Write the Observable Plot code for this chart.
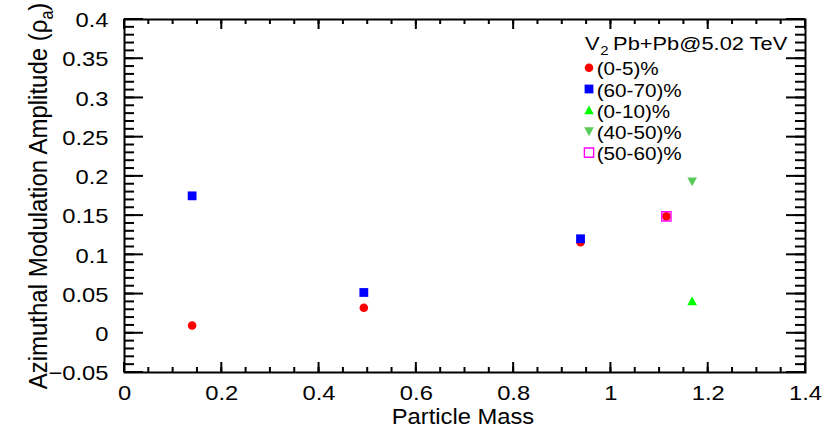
<!DOCTYPE html>
<html>
<head>
<meta charset="utf-8">
<script src="https://cdn.jsdelivr.net/npm/d3@7"></script>
<script src="https://cdn.jsdelivr.net/npm/@observablehq/plot@0.6"></script>
<style>
  html, body { margin: 0; padding: 0; background: #fff; }
  #chart { width: 830px; height: 438px; }
  #chart text { white-space: pre; }
</style>
</head>
<body>
<div id="chart"></div>
<script>
// ---- data ----
const seriesLabels = ["(0-5)%", "(60-70)%", "(0-10)%", "(40-50)%", "(50-60)%"];
const legendTitle = "V";
const legendTitleSub = "2";
const legendTitleRest = "Pb+Pb@5.02 TeV";
const xTitle = "Particle Mass";
const yTitleMain = "Azimuthal Modulation Amplitude (ρ";
const yTitleSub = "a";
const yTitleEnd = ")";

const mass_0_5 = [0.139, 0.492, 0.9375, 1.114];
const amp_0_5 = [0.0099, 0.0325, 0.116, 0.149];
const mass_60_70 = [0.139, 0.492, 0.9375];
const amp_60_70 = [0.1752, 0.052, 0.1205];
const mass_0_10 = [1.167];
const amp_0_10 = [0.041];
const mass_40_50 = [1.167];
const amp_40_50 = [0.1935];
const mass_50_60 = [1.114];
const amp_50_60 = [0.149];

const xTicks = [0, 0.2, 0.4, 0.6, 0.8, 1, 1.2, 1.4];
const yTicks = [-0.05, 0, 0.05, 0.1, 0.15, 0.2, 0.25, 0.3, 0.35, 0.4];
const xMinor = d3.range(0, 1.4001, 0.05);
const yMinor = d3.range(-0.05, 0.4001, 0.01);

// ---- layout ----
const W = 830, H = 438, ML = 124, MR = 25, MT = 19, MB = 66;

const pts = (xs, ys) => xs.map((x, i) => ({x, y: ys[i]}));

// custom symbols (size = PI r^2)
const rOf = (size) => Math.sqrt(size / Math.PI);
const symSquare = {draw(ctx, size) { const r = rOf(size); ctx.rect(-r, -r, 2 * r, 2 * r); }};
const symTriUp = {draw(ctx, size) { const r = rOf(size); ctx.moveTo(0, -r); ctx.lineTo(r, r * 0.85); ctx.lineTo(-r, r * 0.85); ctx.closePath(); }};
const symTriDown = {draw(ctx, size) { const r = rOf(size); ctx.moveTo(-r, -r * 0.85); ctx.lineTo(r, -r * 0.85); ctx.lineTo(0, r); ctx.closePath(); }};

const styles = [
  {symbol: "circle", r: 4.3, fill: "#ff0000", stroke: "none", sw: 0},
  {symbol: symSquare, r: 4.4, fill: "#0000ff", stroke: "none", sw: 0},
  {symbol: symTriUp, r: 4.8, fill: "#00ff00", stroke: "none", sw: 0},
  {symbol: symTriDown, r: 4.8, fill: "#58cc58", stroke: "none", sw: 0},
  {symbol: symSquare, r: 4.6, fill: "none", stroke: "#ff00ff", sw: 1.4}
];
const seriesData = [
  pts(mass_0_5, amp_0_5),
  pts(mass_60_70, amp_60_70),
  pts(mass_0_10, amp_0_10),
  pts(mass_40_50, amp_40_50),
  pts(mass_50_60, amp_50_60)
];

const fmt = (d) => d < 0 ? "\u2212" + String(-d) : String(d);

const dotMarks = seriesData.map((data, i) => {
  const s = styles[i];
  return Plot.dot(data, {x: "x", y: "y", symbol: s.symbol, r: s.r, fill: s.fill, stroke: s.stroke, strokeWidth: s.sw});
});

const chart = Plot.plot({
  width: W, height: H,
  marginLeft: ML, marginRight: MR, marginTop: MT, marginBottom: MB,
  x: {domain: [0, 1.4]},
  y: {domain: [-0.05, 0.4]},
  style: {fontFamily: "'Liberation Sans', Arial, Helvetica, sans-serif", background: "#fff", color: "#000", overflow: "visible"},
  marks: [
    Plot.frame({stroke: "#000", strokeWidth: 2}),
    Plot.axisX(xTicks, {tickSize: 0, tickPadding: 13, tickFormat: fmt, fontSize: 21, label: null}),
    Plot.axisY(yTicks, {tickSize: 0, tickPadding: 16, tickFormat: fmt, fontSize: 21, label: null, dy: 1}),
    ...dotMarks
  ]
});

document.getElementById("chart").appendChild(chart);
const svg = d3.select(chart);
const sx = chart.scale("x"), sy = chart.scale("y");

// inward ticks on all four sides, positioned through Plot's scales
const tg = svg.insert("g", ":first-child").attr("stroke", "#000").attr("stroke-width", 2);
const addX = (vals, len) => vals.forEach(v => {
  const x = sx.apply(v);
  tg.append("line").attr("x1", x).attr("x2", x).attr("y1", H - MB).attr("y2", H - MB - len);
  tg.append("line").attr("x1", x).attr("x2", x).attr("y1", MT).attr("y2", MT + len);
});
const addY = (vals, len) => vals.forEach(v => {
  const y = sy.apply(v);
  tg.append("line").attr("y1", y).attr("y2", y).attr("x1", ML).attr("x2", ML + len);
  tg.append("line").attr("y1", y).attr("y2", y).attr("x1", W - MR).attr("x2", W - MR - len);
});
addX(xMinor, 5); addX(xTicks, 10);
addY(yMinor, 10); addY(yTicks, 19);

// widen tick labels slightly (reference font is wider)
svg.selectAll('g[aria-label$="tick label"] text').each(function () {
  const w = this.getComputedTextLength();
  this.setAttribute("textLength", (w * 1.13).toFixed(2));
  this.setAttribute("lengthAdjust", "spacingAndGlyphs");
});

// axis titles
svg.append("text")
  .attr("transform", "translate(463,424) scale(1.08,1)")
  .attr("text-anchor", "middle")
  .attr("font-size", 22)
  .attr("fill", "#000")
  .text(xTitle);

const yt = svg.append("text")
  .attr("transform", "translate(47,196) scale(1.1,1) rotate(-90)")
  .attr("text-anchor", "middle")
  .attr("font-size", 24)
  .attr("fill", "#000");
yt.append("tspan").text(yTitleMain);
yt.append("tspan").attr("font-size", 16).attr("dy", 5).text(yTitleSub);
yt.append("tspan").attr("dy", -5).text(yTitleEnd);

// legend
const hdr = svg.append("text")
  .attr("transform", "translate(585,50) scale(1.15,1)")
  .attr("text-anchor", "start")
  .attr("font-size", 19)
  .attr("fill", "#000");
hdr.append("tspan").text(legendTitle);
hdr.append("tspan").attr("font-size", 13).attr("dx", 0.5).attr("dy", 5).text(legendTitleSub);
hdr.append("tspan").attr("dx", 4).attr("dy", -5).text(legendTitleRest);

const lg = svg.append("g");
seriesLabels.forEach((label, i) => {
  const s = styles[i];
  const cy = 67.8 + i * 21.2;
  const type = s.symbol === "circle" ? d3.symbolCircle : s.symbol;
  lg.append("path")
    .attr("transform", `translate(589,${cy})`)
    .attr("d", d3.symbol().type(type).size(Math.PI * s.r * s.r)())
    .attr("fill", s.fill)
    .attr("stroke", s.stroke)
    .attr("stroke-width", s.sw);
  lg.append("text")
    .attr("transform", `translate(596.7,${cy + 7.6}) scale(1.15,1)`)
    .attr("text-anchor", "start")
    .attr("font-size", 18)
    .attr("fill", "#000")
    .text(label);
});
</script>
</body>
</html>
